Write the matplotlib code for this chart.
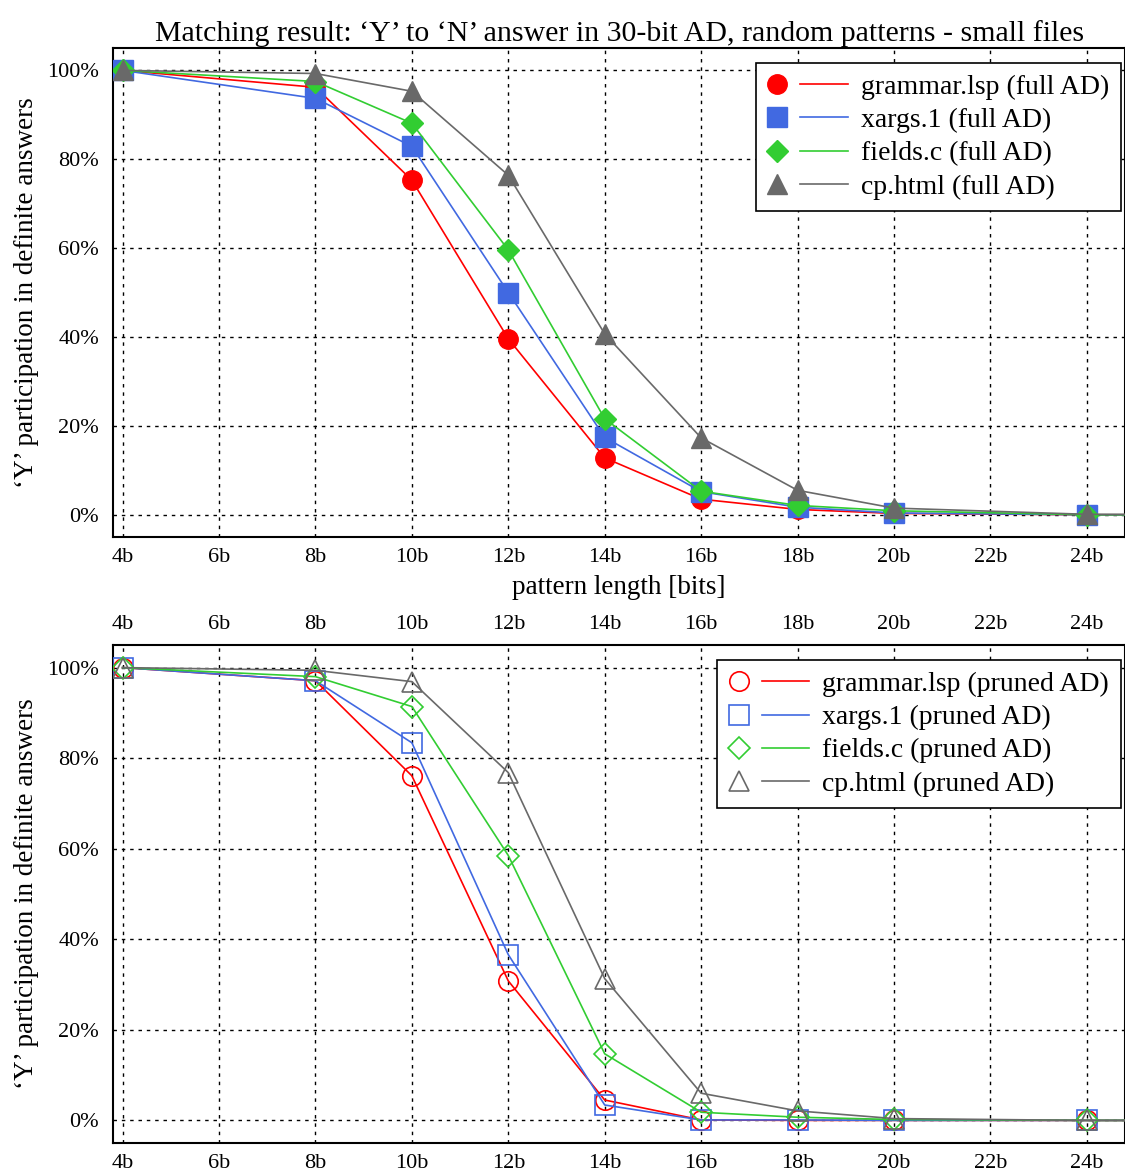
import numpy as np
import matplotlib
matplotlib.use("Agg")
import matplotlib.pyplot as plt
from matplotlib.lines import Line2D
from matplotlib.legend_handler import HandlerBase

plt.rcParams['font.family'] = ['Liberation Serif', 'DejaVu Serif']

# pattern lengths in bits (28 is off-screen, the lines just run on flat)
bits = [4, 8, 10, 12, 14, 16, 18, 20, 24, 28]
tick_bits = [4, 6, 8, 10, 12, 14, 16, 18, 20, 22, 24]
tick_labels = [f"{b}b" for b in tick_bits]

names = ["grammar.lsp", "xargs.1", "fields.c", "cp.html"]

# 'Y' share in %, full AD
full_grammar = [100, 96.2, 75.3, 39.6, 12.8, 3.5, 1.2, 0.3, 0.0, 0.0]
full_xargs = [100, 93.7, 82.9, 50.0, 17.4, 5.2, 1.7, 0.4, 0.0, 0.0]
full_fields = [100, 97.5, 88.1, 59.6, 21.6, 5.3, 2.1, 0.9, 0.0, 0.0]
full_cp = [100, 99.3, 95.3, 76.4, 40.7, 17.3, 5.5, 1.5, 0.1, 0.0]

# 'Y' share in %, pruned AD
pr_grammar = [100, 97.1, 76.1, 30.8, 4.5, 0.1, 0.0, 0.0, 0.0, 0.0]
pr_xargs = [100, 97.1, 83.4, 36.6, 3.4, 0.1, 0.1, 0.0, 0.0, 0.0]
pr_fields = [100, 98.0, 91.4, 58.5, 14.7, 1.8, 0.7, 0.2, 0.0, 0.0]
pr_cp = [100, 99.4, 96.9, 76.8, 31.3, 6.0, 2.1, 0.4, 0.0, 0.0]

colors = ["red", "royalblue", "limegreen", "dimgray"]
markers = ["o", "s", "D", "^"]
msizes = [14, 14, 11, 14]


# legend key: marker on the left, a short line on the right
class MarkerThenLine(HandlerBase):
    def create_artists(self, legend, orig, xdescent, ydescent, width, height,
                       fontsize, trans):
        y = height / 2 - ydescent
        x0 = -xdescent
        mk = Line2D([x0 + 0.12 * width], [y], linestyle="none",
                    marker=orig.get_marker(), markersize=orig.get_markersize(),
                    markerfacecolor=orig.get_markerfacecolor(),
                    markeredgecolor=orig.get_markeredgecolor(),
                    markeredgewidth=orig.get_markeredgewidth())
        ln = Line2D([x0 + 0.41 * width, x0 + width], [y, y],
                    color=orig.get_color(), linewidth=orig.get_linewidth())
        mk.set_transform(trans)
        ln.set_transform(trans)
        return [mk, ln]


fig = plt.figure(figsize=(11.25, 11.75), dpi=100)
ax1 = fig.add_axes([0.1004, 0.543, 0.9, 0.416])
ax2 = fig.add_axes([0.1004, 0.0272, 0.9, 0.4239])

ylabel = "\u2018Y\u2019 participation in definite answers"


def style_axis(ax):
    ax.set_xlim(3.8, 24.8)
    ax.set_ylim(-5, 105)
    ax.set_xticks(tick_bits)
    ax.set_xticklabels(tick_labels)
    ax.set_yticks([0, 20, 40, 60, 80, 100])
    ax.set_yticklabels(["0%", "20%", "40%", "60%", "80%", "100%"])
    ax.tick_params(length=0, labelsize=16)
    ax.tick_params(axis="y", pad=10)
    ax.tick_params(axis="x", pad=8)
    ax.grid(True, color="black", linestyle=(0, (2.5, 3.5)), linewidth=1)
    ax.set_ylabel(ylabel, fontsize=19.5, labelpad=6)
    for s in ax.spines.values():
        s.set_linewidth(1.5)


def add_legend(ax, handles, labels):
    leg = ax.legend(handles, labels, loc="upper right",
                    bbox_to_anchor=(0.9955, 0.97), borderaxespad=0,
                    fontsize=20, handler_map={Line2D: MarkerThenLine()},
                    handlelength=2.9, fancybox=False, framealpha=1,
                    edgecolor="black", labelspacing=0.28,
                    handletextpad=0.47, borderpad=0.42)
    leg.get_frame().set_linewidth(1.2)


# top: full AD, filled markers
full = [full_grammar, full_xargs, full_fields, full_cp]
handles = []
for vals, c, m, ms in zip(full, colors, markers, msizes):
    h, = ax1.plot(bits, vals, color=c, linewidth=1.2, marker=m, markersize=ms,
                  markerfacecolor=c, markeredgecolor=c, zorder=3)
    handles.append(h)
style_axis(ax1)
ax1.set_xlabel("pattern length [bits]", fontsize=19.5, labelpad=6)
ax1.set_title("Matching result: \u2018Y\u2019 to \u2018N\u2019 answer in 30-bit AD, "
              "random patterns - small files", fontsize=21.5, pad=5)
add_legend(ax1, handles, [f"{n} (full AD)" for n in names])

# bottom: pruned AD, open markers
pruned = [pr_grammar, pr_xargs, pr_fields, pr_cp]
handles = []
for vals, c, m, ms in zip(pruned, colors, markers, msizes):
    h, = ax2.plot(bits, vals, color=c, linewidth=1.2, marker=m, markersize=ms,
                  markerfacecolor="none", markeredgecolor=c,
                  markeredgewidth=1.2, zorder=3)
    handles.append(h)
style_axis(ax2)
ax2.tick_params(axis="x", top=True, labeltop=True)
add_legend(ax2, handles, [f"{n} (pruned AD)" for n in names])

fig.savefig("out.png", dpi=100)
